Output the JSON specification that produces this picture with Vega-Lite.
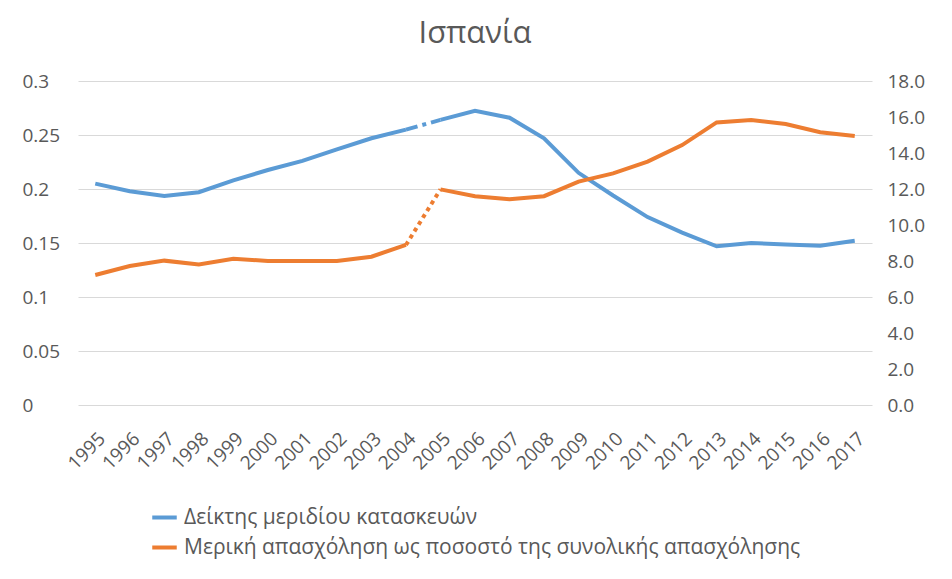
{
  "$schema": "https://vega.github.io/schema/vega-lite/v6.json",
  "width": 794,
  "height": 324,
  "autosize": "none",
  "padding": {"left": 78, "top": 81, "right": 80, "bottom": 174},
  "background": "white",
  "config": {
    "font": "Open Sans",
    "view": {"stroke": null},
    "axis": {"domain": false, "ticks": false, "labelColor": "#595959", "labelFont": "Open Sans", "labelFontSize": 14, "titleColor": "#595959"},
    "legend": {"labelFont": "Open Sans"}
  },
  "title": {"text": "Ισπανία", "fontSize": 31, "fontWeight": "normal", "color": "#595959", "font": "Open Sans", "offset": 22, "anchor": "middle"},
  "data": {"values": [
    {"year": "1995", "series": "Δείκτης μεριδίου κατασκευών", "value": 0.205, "part": "a"},
    {"year": "1996", "series": "Δείκτης μεριδίου κατασκευών", "value": 0.198, "part": "a"},
    {"year": "1997", "series": "Δείκτης μεριδίου κατασκευών", "value": 0.1935, "part": "a"},
    {"year": "1998", "series": "Δείκτης μεριδίου κατασκευών", "value": 0.197, "part": "a"},
    {"year": "1999", "series": "Δείκτης μεριδίου κατασκευών", "value": 0.208, "part": "a"},
    {"year": "2000", "series": "Δείκτης μεριδίου κατασκευών", "value": 0.2176, "part": "a"},
    {"year": "2001", "series": "Δείκτης μεριδίου κατασκευών", "value": 0.226, "part": "a"},
    {"year": "2002", "series": "Δείκτης μεριδίου κατασκευών", "value": 0.2367, "part": "a"},
    {"year": "2003", "series": "Δείκτης μεριδίου κατασκευών", "value": 0.247, "part": "a"},
    {"year": "2004", "series": "Δείκτης μεριδίου κατασκευών", "value": 0.255, "part": "a"},
    {"year": "2005", "series": "Δείκτης μεριδίου κατασκευών", "value": 0.264, "part": "b"},
    {"year": "2006", "series": "Δείκτης μεριδίου κατασκευών", "value": 0.2725, "part": "b"},
    {"year": "2007", "series": "Δείκτης μεριδίου κατασκευών", "value": 0.266, "part": "b"},
    {"year": "2008", "series": "Δείκτης μεριδίου κατασκευών", "value": 0.247, "part": "b"},
    {"year": "2009", "series": "Δείκτης μεριδίου κατασκευών", "value": 0.215, "part": "b"},
    {"year": "2010", "series": "Δείκτης μεριδίου κατασκευών", "value": 0.194, "part": "b"},
    {"year": "2011", "series": "Δείκτης μεριδίου κατασκευών", "value": 0.174, "part": "b"},
    {"year": "2012", "series": "Δείκτης μεριδίου κατασκευών", "value": 0.1596, "part": "b"},
    {"year": "2013", "series": "Δείκτης μεριδίου κατασκευών", "value": 0.147, "part": "b"},
    {"year": "2014", "series": "Δείκτης μεριδίου κατασκευών", "value": 0.15, "part": "b"},
    {"year": "2015", "series": "Δείκτης μεριδίου κατασκευών", "value": 0.1487, "part": "b"},
    {"year": "2016", "series": "Δείκτης μεριδίου κατασκευών", "value": 0.1475, "part": "b"},
    {"year": "2017", "series": "Δείκτης μεριδίου κατασκευών", "value": 0.152, "part": "b"},
    {"year": "1995", "series": "Μερική απασχόληση ως ποσοστό της συνολικής απασχόλησης", "value": 7.22, "part": "a"},
    {"year": "1996", "series": "Μερική απασχόληση ως ποσοστό της συνολικής απασχόλησης", "value": 7.72, "part": "a"},
    {"year": "1997", "series": "Μερική απασχόληση ως ποσοστό της συνολικής απασχόλησης", "value": 8.02, "part": "a"},
    {"year": "1998", "series": "Μερική απασχόληση ως ποσοστό της συνολικής απασχόλησης", "value": 7.81, "part": "a"},
    {"year": "1999", "series": "Μερική απασχόληση ως ποσοστό της συνολικής απασχόλησης", "value": 8.13, "part": "a"},
    {"year": "2000", "series": "Μερική απασχόληση ως ποσοστό της συνολικής απασχόλησης", "value": 8.0, "part": "a"},
    {"year": "2001", "series": "Μερική απασχόληση ως ποσοστό της συνολικής απασχόλησης", "value": 8.0, "part": "a"},
    {"year": "2002", "series": "Μερική απασχόληση ως ποσοστό της συνολικής απασχόλησης", "value": 8.0, "part": "a"},
    {"year": "2003", "series": "Μερική απασχόληση ως ποσοστό της συνολικής απασχόλησης", "value": 8.24, "part": "a"},
    {"year": "2004", "series": "Μερική απασχόληση ως ποσοστό της συνολικής απασχόλησης", "value": 8.89, "part": "a"},
    {"year": "2005", "series": "Μερική απασχόληση ως ποσοστό της συνολικής απασχόλησης", "value": 11.98, "part": "b"},
    {"year": "2006", "series": "Μερική απασχόληση ως ποσοστό της συνολικής απασχόλησης", "value": 11.6, "part": "b"},
    {"year": "2007", "series": "Μερική απασχόληση ως ποσοστό της συνολικής απασχόλησης", "value": 11.43, "part": "b"},
    {"year": "2008", "series": "Μερική απασχόληση ως ποσοστό της συνολικής απασχόλησης", "value": 11.6, "part": "b"},
    {"year": "2009", "series": "Μερική απασχόληση ως ποσοστό της συνολικής απασχόλησης", "value": 12.41, "part": "b"},
    {"year": "2010", "series": "Μερική απασχόληση ως ποσοστό της συνολικής απασχόλησης", "value": 12.87, "part": "b"},
    {"year": "2011", "series": "Μερική απασχόληση ως ποσοστό της συνολικής απασχόλησης", "value": 13.52, "part": "b"},
    {"year": "2012", "series": "Μερική απασχόληση ως ποσοστό της συνολικής απασχόλησης", "value": 14.44, "part": "b"},
    {"year": "2013", "series": "Μερική απασχόληση ως ποσοστό της συνολικής απασχόλησης", "value": 15.7, "part": "b"},
    {"year": "2014", "series": "Μερική απασχόληση ως ποσοστό της συνολικής απασχόλησης", "value": 15.83, "part": "b"},
    {"year": "2015", "series": "Μερική απασχόληση ως ποσοστό της συνολικής απασχόλησης", "value": 15.61, "part": "b"},
    {"year": "2016", "series": "Μερική απασχόληση ως ποσοστό της συνολικής απασχόλησης", "value": 15.15, "part": "b"},
    {"year": "2017", "series": "Μερική απασχόληση ως ποσοστό της συνολικής απασχόλησης", "value": 14.94, "part": "b"}
  ]},
  "encoding": {
    "x": {"field": "year", "type": "ordinal", "title": null,
      "axis": {"labelAngle": -45, "labelPadding": 24, "grid": false, "labelFontSize": 19}},
    "color": {"field": "series", "type": "nominal",
      "scale": {"domain": ["Δείκτης μεριδίου κατασκευών", "Μερική απασχόληση ως ποσοστό της συνολικής απασχόλησης"], "range": ["#5B9BD5", "#ED7D31"]},
      "legend": {"title": null, "orient": "none", "legendX": 72, "legendY": 422, "symbolType": "stroke", "symbolSize": 600, "symbolStrokeWidth": 4, "labelFontSize": 21, "labelColor": "#595959", "rowPadding": 5, "labelLimit": 800, "symbolOffset": 0, "labelOffset": 5}}
  },
  "layer": [
    {
      "transform": [{"filter": "datum.series === 'Δείκτης μεριδίου κατασκευών'"}],
      "encoding": {
        "y": {"field": "value", "type": "quantitative", "title": null,
          "scale": {"domain": [0, 0.3], "nice": false, "zero": true},
          "axis": {"orient": "left", "values": [0, 0.05, 0.1, 0.15, 0.2, 0.25, 0.3], "format": ".2~f", "grid": true, "gridColor": "#d9d9d9", "gridWidth": 1, "labelAlign": "left", "labelPadding": 56, "labelFontSize": 19}}
      },
      "layer": [
        {"mark": {"type": "line", "strokeWidth": 4, "strokeCap": "butt"}, "encoding": {"detail": {"field": "part"}}},
        {"transform": [{"filter": {"field": "year", "oneOf": ["2004", "2005"]}}],
         "mark": {"type": "line", "strokeWidth": 4, "strokeDash": [12, 5, 4, 5], "strokeCap": "butt"}, "encoding": {}}
      ]
    },
    {
      "transform": [{"filter": "datum.series !== 'Δείκτης μεριδίου κατασκευών'"}],
      "encoding": {
        "y": {"field": "value", "type": "quantitative", "title": null,
          "scale": {"domain": [0, 18], "nice": false, "zero": true},
          "axis": {"orient": "right", "values": [0, 2, 4, 6, 8, 10, 12, 14, 16, 18], "format": ".1f", "grid": false, "labelAlign": "left", "labelPadding": 15, "labelFontSize": 19}}
      },
      "layer": [
        {"mark": {"type": "line", "strokeWidth": 4, "strokeCap": "butt"}, "encoding": {"detail": {"field": "part"}}},
        {"transform": [{"filter": {"field": "year", "oneOf": ["2004", "2005"]}}],
         "mark": {"type": "line", "strokeWidth": 4, "strokeDash": [4, 4], "strokeCap": "butt"}, "encoding": {}}
      ]
    }
  ],
  "resolve": {"scale": {"y": "independent"}, "axis": {"y": "independent"}}
}
